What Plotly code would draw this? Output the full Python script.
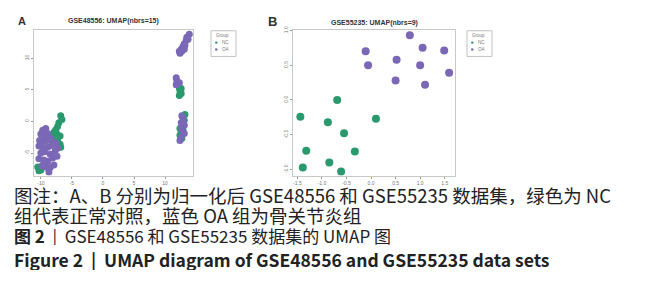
import plotly.graph_objects as go

# ---------------- data ----------------
# Panel A: GSE48556 UMAP (nbrs=15)
a_nc_x = [-6.8, -6.6, -7.1, -7.3, -7.6, -7.9, -7.4, -8.1, -6.9, -8.2, -7.3, -6.8, -6.9,
          -10.5, -10.0, -10.3, -9.2,
          12.3, 12.4, 12.6, 12.3, 12.6,
          13.1, 12.4, 12.9, 12.6, 12.4, 13.2, 12.7]
a_nc_y = [0.9, 0.3, -0.2, -0.8, -1.3, -1.7, -2.0, -2.5, -2.3, -3.1, -3.0, -4.1, -3.6,
          -7.2, -7.7, -7.8, -7.0,
          5.3, 4.8, 4.4, 4.1, 5.2,
          0.2, -1.1, -1.4, -1.7, -2.2, 1.1, -2.7]
a_oa_x = [-9.7, -9.2, -10.0, -9.5, -8.9, -10.2, -9.7, -9.0, -8.4, -10.3, -9.7, -8.9, -8.2, -7.6,
          -10.0, -9.4, -8.5, -7.7, -7.3, -10.3, -9.5, -8.9, -8.1, -7.4, -9.8, -9.2, -8.5, -7.9,
          -8.7, -9.5,
          12.4, 12.6, 12.9, 13.1, 13.4, 13.5, 13.9, 12.7, 13.2, 13.7, 13.1, 12.3,
          11.8, 11.9, 12.3, 11.8,
          12.7, 12.9, 12.6, 13.1, 12.7, 13.1, 12.6, 12.4, 12.9, 12.7]
a_oa_y = [-1.4, -1.1, -2.0, -2.3, -1.9, -3.0, -3.3, -3.0, -2.7, -3.9, -4.2, -4.1, -3.8, -3.4,
          -5.0, -4.8, -5.2, -4.7, -4.2, -5.9, -6.1, -6.3, -5.8, -5.5, -7.0, -7.2, -7.3, -6.9,
          -8.0, -6.6,
          10.8, 11.4, 11.9, 12.3, 12.8, 13.3, 13.8, 11.1, 12.0, 13.0, 11.4, 11.1,
          6.9, 6.4, 6.1, 5.8,
          0.9, 0.5, -0.2, -0.6, -1.3, -1.9, -2.5, -3.0, 0.0, -0.8]

# Panel B: GSE55235 UMAP (nbrs=9)
b_nc_x = [-0.69, -1.44, -0.88, 0.10, -0.55, -1.32, -0.33, -0.85, -1.39, -0.61]
b_nc_y = [0.00, -0.24, -0.32, -0.27, -0.48, -0.73, -0.74, -0.90, -0.97, -1.03]
b_oa_x = [0.79, -0.11, 1.05, 1.49, -0.06, 0.52, 1.00, 1.59, 0.50, 1.10]
b_oa_y = [0.93, 0.70, 0.75, 0.71, 0.50, 0.58, 0.50, 0.39, 0.28, 0.22]

a_xticks = [-10, -5, 0, 5, 10]
a_yticks = [-5, 0, 5, 10]
b_xticks = [-1.5, -1.0, -0.5, 0.0, 0.5, 1.0, 1.5]
b_yticks = [-1.0, -0.5, 0.0, 0.5, 1.0]

group_names = ["NC", "OA"]
GREEN = "#2a9a6e"
PURPLE = "#7a68b6"

caption_lines = [
    "图注：A、B 分别为归一化后 GSE48556 和 GSE55235 数据集，绿色为 NC",
    "组代表正常对照，蓝色 OA 组为骨关节炎组",
    "<b>图 2</b>  |  GSE48556 和 GSE55235 数据集的 UMAP 图",
    "<b>Figure 2  |  UMAP diagram of GSE48556 and GSE55235 data sets</b>",
]

# ---------------- figure ----------------
W, H = 645, 300
fig = go.Figure()

def px2x(p):
    return p / W

def px2y(p):
    return 1 - p / H

fig.add_trace(go.Scatter(x=a_nc_x, y=a_nc_y, mode="markers", marker=dict(color=GREEN, size=7),
                         xaxis="x", yaxis="y", showlegend=False))
fig.add_trace(go.Scatter(x=a_oa_x, y=a_oa_y, mode="markers", marker=dict(color=PURPLE, size=7),
                         xaxis="x", yaxis="y", showlegend=False))
fig.add_trace(go.Scatter(x=b_nc_x, y=b_nc_y, mode="markers", marker=dict(color=GREEN, size=8),
                         xaxis="x2", yaxis="y2", showlegend=False))
fig.add_trace(go.Scatter(x=b_oa_x, y=b_oa_y, mode="markers", marker=dict(color=PURPLE, size=8),
                         xaxis="x2", yaxis="y2", showlegend=False))

axstyle = dict(showgrid=False, zeroline=False, showline=True, mirror=True,
               linecolor="#c8c8c8", linewidth=1, ticks="outside", ticklen=2,
               tickcolor="#999999", tickfont=dict(size=5, color="#777777", family="Liberation Sans"))

fig.update_layout(
    width=W, height=H, margin=dict(l=0, r=0, t=0, b=0),
    paper_bgcolor="white", plot_bgcolor="white",
    xaxis=dict(domain=[px2x(26), px2x(185)], range=[-11.1, 14.5], tickvals=a_xticks,
               ticktext=[str(v) for v in a_xticks], anchor="y", **axstyle),
    yaxis=dict(domain=[px2y(166), px2y(18)], range=[-8.6, 14.5], tickvals=a_yticks,
               ticktext=[str(v) for v in a_yticks], tickangle=-90, anchor="x", **axstyle),
    xaxis2=dict(domain=[px2x(285), px2x(447)], range=[-1.59, 1.71], tickvals=b_xticks,
                ticktext=[f"{v:.1f}" for v in b_xticks], anchor="y2", **axstyle),
    yaxis2=dict(domain=[px2y(166), px2y(18)], range=[-1.09, 1.01], tickvals=b_yticks,
                ticktext=[f"{v:.1f}" for v in b_yticks], tickangle=-90, anchor="x2", **axstyle),
)

ann = []
ann.append(dict(x=px2x(8), y=px2y(9), text="<b>A</b>", showarrow=False, xref="paper", yref="paper",
                xanchor="left", yanchor="middle", font=dict(size=11, color="#333", family="Liberation Sans")))
ann.append(dict(x=px2x(258), y=px2y(10), text="<b>B</b>", showarrow=False, xref="paper", yref="paper",
                xanchor="left", yanchor="middle", font=dict(size=13, color="#333", family="Liberation Sans")))
ann.append(dict(x=px2x(105), y=px2y(9), text="<b>GSE48556: UMAP(nbrs=15)</b>", showarrow=False,
                xref="paper", yref="paper", xanchor="center", yanchor="middle",
                font=dict(size=7, color="#333", family="Liberation Sans")))
ann.append(dict(x=px2x(366), y=px2y(11), text="<b>GSE55235: UMAP(nbrs=9)</b>", showarrow=False,
                xref="paper", yref="paper", xanchor="center", yanchor="middle",
                font=dict(size=7, color="#333", family="Liberation Sans")))

shapes = []
for lx in (203, 459):
    shapes.append(dict(type="rect", xref="paper", yref="paper", x0=px2x(lx), x1=px2x(lx + 25),
                       y0=px2y(45), y1=px2y(19), line=dict(color="#c0c0c0", width=1)))
    ann.append(dict(x=px2x(lx + 3), y=px2y(24), text="Group", showarrow=False, xref="paper", yref="paper",
                    xanchor="left", yanchor="middle", font=dict(size=4.5, color="#777", family="Liberation Sans")))
    for i, (nm, col) in enumerate(zip(group_names, [GREEN, PURPLE])):
        yy = 31 + i * 7
        shapes.append(dict(type="circle", xref="paper", yref="paper",
                           x0=px2x(lx + 4), x1=px2x(lx + 6.5), y0=px2y(yy + 1.2), y1=px2y(yy - 1.2),
                           fillcolor=col, line=dict(width=0)))
        ann.append(dict(x=px2x(lx + 9), y=px2y(yy), text=nm, showarrow=False, xref="paper", yref="paper",
                        xanchor="left", yanchor="middle",
                        font=dict(size=4.5, color="#777", family="Liberation Sans")))

# caption
cap_y = [185, 205, 226, 251]
cap_size = [18.5, 18.5, 17, 17.5]
cap_h = [21, 21, 20, 21]
cap_family = ["Noto Sans CJK SC", "Noto Sans CJK SC", "Noto Sans CJK SC", "Liberation Sans Narrow, Noto Sans CJK SC"]
for t, yy, sz, hh, fam in zip(caption_lines, cap_y, cap_size, cap_h, cap_family):
    ann.append(dict(x=px2x(5), y=px2y(yy), text=t, showarrow=False, xref="paper", yref="paper",
                    xanchor="left", yanchor="middle", height=hh, valign="middle", borderpad=0,
                    font=dict(size=sz, color="#222222", family=fam)))

fig.update_layout(annotations=ann, shapes=shapes)
fig.write_html("out.html")
